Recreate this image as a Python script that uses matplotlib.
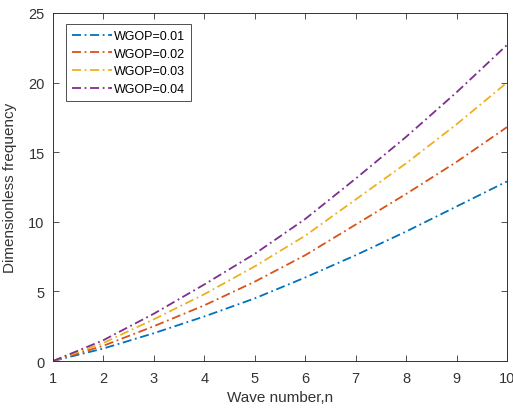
import numpy as np
import matplotlib.pyplot as plt

plt.rcParams['font.family'] = ['Liberation Sans', 'DejaVu Sans']

n = [1, 2, 3, 4, 5, 6, 7, 8, 9, 10]
wgop_001 = [0, 0.9, 2.0, 3.2, 4.5, 6.0, 7.6, 9.3, 11.1, 12.9]
wgop_002 = [0, 1.1, 2.5, 4.0, 5.7, 7.6, 9.8, 12.0, 14.3, 16.8]
wgop_003 = [0, 1.3, 3.0, 4.8, 6.8, 9.0, 11.6, 14.2, 17.0, 20.0]
wgop_004 = [0, 1.5, 3.4, 5.5, 7.7, 10.2, 13.1, 16.1, 19.3, 22.7]
labels = ['WGOP=0.01', 'WGOP=0.02', 'WGOP=0.03', 'WGOP=0.04']
colors = ['#0072BD', '#D95319', '#EDB120', '#7E2F8E']

fig = plt.figure(figsize=(5.13, 4.10), dpi=100)
ax = fig.add_axes([0.1033, 0.117, 0.885, 0.849])

for y, lab, c in zip([wgop_001, wgop_002, wgop_003, wgop_004], labels, colors):
    ax.plot(n, y, '-.', color=c, lw=1.3, label=lab, dashes=(5, 2, 1, 2))

ax.set_xlim(1, 10)
ax.set_ylim(0, 25)
ax.set_xticks(range(1, 11))
ax.set_yticks([0, 5, 10, 15, 20, 25])
ax.tick_params(direction='in', top=True, right=True, labelsize=10.5,
               colors='#333333', length=4, width=0.6)
ax.tick_params(axis='x', pad=7)
ax.tick_params(axis='y', pad=6)
for s in ax.spines.values():
    s.set_color('#333333')
    s.set_linewidth(0.7)
ax.set_xlabel('Wave number,n', fontsize=11, color='#333333', labelpad=4)
ax.set_ylabel('Dimensionless frequency', fontsize=11, color='#333333', labelpad=8)

leg = ax.legend(loc='upper left', fontsize=9, handlelength=3.2, handletextpad=0.2,
                labelspacing=0.45, borderpad=0.45, fancybox=False, framealpha=1,
                bbox_to_anchor=(0.015, 0.985))
leg.get_frame().set_edgecolor('#333333')
leg.get_frame().set_linewidth(0.6)

fig.savefig('out.png')
